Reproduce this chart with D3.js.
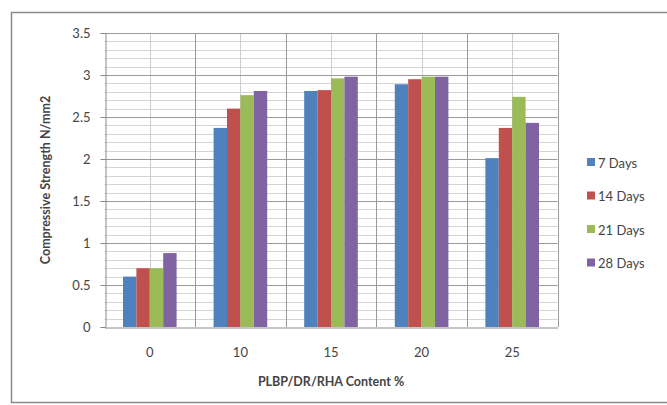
<!doctype html>
<html lang="en">
<head>
<meta charset="UTF-8">
<title>Compressive Strength</title>
<style>
  body { margin: 0; background: #fff; }
  svg text { font-family: Lato, "Open Sans", sans-serif; fill: #444; }
</style>
</head>
<body>
<svg></svg>
<script src="https://cdn.jsdelivr.net/npm/d3@7"></script>
<script>
const categories = ["0", "10", "15", "20", "25"];
const seriesNames = ["7 Days", "14 Days", "21 Days", "28 Days"];
const days7  = [0.60, 2.37, 2.81, 2.89, 2.01];
const days14 = [0.70, 2.60, 2.82, 2.95, 2.37];
const days21 = [0.70, 2.76, 2.96, 2.98, 2.74];
const days28 = [0.88, 2.81, 2.98, 2.98, 2.43];
const yTicks = [0, 0.5, 1, 1.5, 2, 2.5, 3, 3.5];
const colors = ["#4f81bd", "#c0504d", "#9bbb59", "#8064a2"];

const series = [days7, days14, days21, days28];
const width = 667, height = 405;
const plotL = 104.5, plotR = 557.5, plotT = 33, plotB = 327;

const svg = d3.select("svg").attr("width", width).attr("height", height);

// outer chart frame
svg.append("rect")
   .attr("x", 11.5).attr("y", 12.5)
   .attr("width", 680).attr("height", 390)
   .attr("fill", "#fff")
   .attr("stroke", "#8a8a8a").attr("stroke-width", 1.5);

const x = d3.scaleBand().domain(categories).range([plotL, plotR]);
const xs = d3.scaleBand().domain(seriesNames)
             .range([0, x.bandwidth()]).paddingInner(0).paddingOuter(1.38);
const y = d3.scaleLinear().domain([0, 3.5]).range([plotB, plotT]);

// minor horizontal grid
const g = svg.append("g");
g.selectAll(".hminor")
 .data(d3.range(0, 35).map(i => i / 10).filter(v => Math.round(v * 10) % 5 !== 0))
 .enter().append("line")
 .attr("x1", plotL).attr("x2", plotR)
 .attr("y1", d => Math.round(y(d)) + 0.5).attr("y2", d => Math.round(y(d)) + 0.5)
 .attr("stroke", "#d4d4d4");

// minor vertical grid at category centres
g.selectAll(".vminor")
 .data(categories).enter().append("line")
 .attr("x1", d => Math.round(x(d) + x.bandwidth() / 2) + 0.5)
 .attr("x2", d => Math.round(x(d) + x.bandwidth() / 2) + 0.5)
 .attr("y1", plotT).attr("y2", plotB)
 .attr("stroke", "#cfcfcf");

// major grid
g.selectAll(".hmajor")
 .data(yTicks.slice(1)).enter().append("line")
 .attr("x1", plotL).attr("x2", plotR)
 .attr("y1", d => Math.round(y(d)) + 0.5).attr("y2", d => Math.round(y(d)) + 0.5)
 .attr("stroke", "#9a9a9a");

g.selectAll(".vmajor")
 .data(categories.slice(1).map(c => x(c)).concat([plotR])).enter().append("line")
 .attr("x1", d => Math.round(d) + 0.5).attr("x2", d => Math.round(d) + 0.5)
 .attr("y1", plotT).attr("y2", plotB)
 .attr("stroke", "#9a9a9a");

// bars
series.forEach((vals, si) => {
  svg.append("g").selectAll("rect")
     .data(vals).enter().append("rect")
     .attr("x", (d, i) => x(categories[i]) + xs(seriesNames[si]))
     .attr("width", xs.bandwidth())
     .attr("y", d => y(d))
     .attr("height", d => plotB - y(d))
     .attr("fill", colors[si]);
});

// axes
const yAxis = svg.append("g")
   .attr("transform", `translate(${Math.round(plotL) + 0.5},0)`)
   .call(d3.axisLeft(y).tickValues(yTicks).tickFormat(d3.format("")).tickSize(5).tickPadding(10));
yAxis.select(".domain").attr("stroke", "#8a8a8a");
yAxis.selectAll(".tick line").attr("stroke", "#8a8a8a");
yAxis.selectAll("text").attr("font-size", 13).attr("fill", "#555");

const xAxis = svg.append("g")
   .attr("transform", `translate(0,${plotB + 0.5})`)
   .call(d3.axisBottom(x).tickSize(0).tickPadding(20));
xAxis.select(".domain").attr("stroke", "#8a8a8a");
xAxis.selectAll("text").attr("font-size", 13).attr("fill", "#555");

// axis titles
svg.append("text")
   .attr("x", (plotL + plotR) / 2).attr("y", 386)
   .attr("text-anchor", "middle")
   .attr("font-size", 12.5).attr("font-weight", "bold")
   .text("PLBP/DR/RHA Content %");

svg.append("text")
   .attr("transform", `translate(50,${(plotT + plotB) / 2}) rotate(-90)`)
   .attr("text-anchor", "middle")
   .attr("font-size", 12.5).attr("font-weight", "bold")
   .text("Compressive Strength N/mm2");

// legend
const legend = svg.append("g").selectAll("g")
   .data(seriesNames).enter().append("g")
   .attr("transform", (d, i) => `translate(587,${163 + i * 33.5})`);
legend.append("rect")
   .attr("x", 0).attr("y", -5).attr("width", 8).attr("height", 8)
   .attr("fill", (d, i) => colors[i]);
legend.append("text")
   .attr("x", 11).attr("y", 0).attr("dy", "0.35em")
   .attr("font-size", 13).attr("fill", "#555")
   .text(d => d);
</script>
</body>
</html>
